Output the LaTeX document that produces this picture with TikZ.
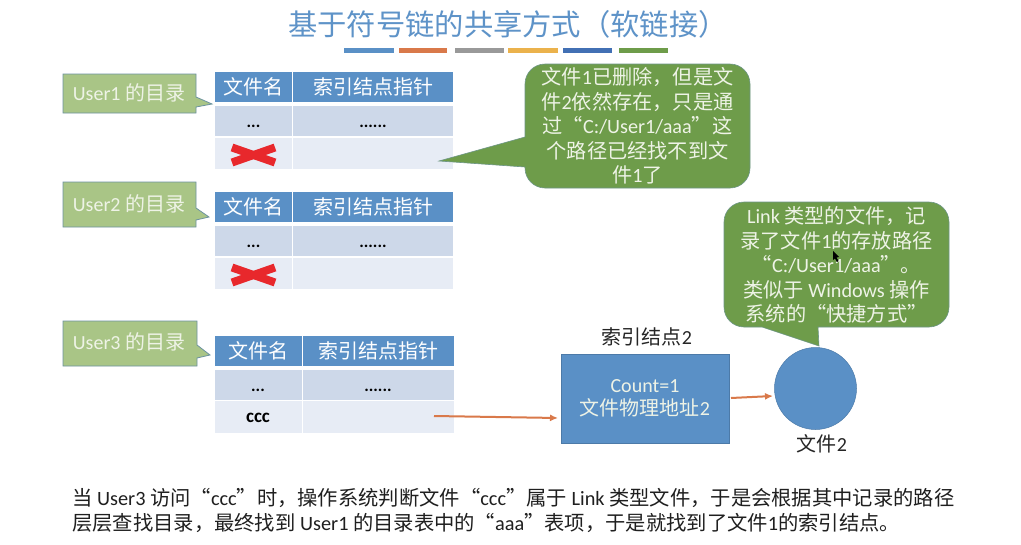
\documentclass[tikz,border=0pt]{standalone}
\usepackage{fontspec}
\setmainfont{Carlito}
\newfontfamily\cjk{Noto Sans CJK SC}
\newcommand\zh[1]{{\cjk #1}}
\newcommand\lowdots[1]{\smash{\raisebox{-6.5pt}{\textbf{#1}}}}
\definecolor{hdr}{HTML}{5A90C6}
\definecolor{rowa}{HTML}{CDD8E9}
\definecolor{rowb}{HTML}{E7ECF5}
\definecolor{lab}{HTML}{A9C586}
\definecolor{labedge}{HTML}{6C93A0}
\definecolor{grn}{HTML}{6E9C4A}
\definecolor{arr}{HTML}{D9794A}
\definecolor{ttl}{HTML}{5E93C8}
\definecolor{lighttext}{HTML}{EEF3E6}
\definecolor{crossred}{HTML}{E8282C}
\definecolor{baryel}{HTML}{EBB24C}
\definecolor{barblu}{HTML}{4270B4}
\usetikzlibrary{arrows.meta}
\tikzset{
  cell/.style={inner sep=0pt,outer sep=0pt,text=black,draw=white,line width=1pt,font=\fontsize{17}{18}\selectfont},
  head/.style={cell,fill=hdr,text=white,font=\fontsize{20}{24}\selectfont,minimum height=31pt},
  rowone/.style={cell,fill=rowa,minimum height=31pt},
  rowtwo/.style={cell,fill=rowb,minimum height=32pt},
  wa/.style={minimum width=78.5pt},
  wb/.style={minimum width=160.5pt},
  wc/.style={minimum width=88pt},
  wd/.style={minimum width=152pt},
  labelbox/.style={fill=lab,draw=labedge,line width=0.8pt},
  labeltext/.style={inner sep=0pt,text=lighttext,font=\fontsize{20}{23}\selectfont},
  bubble/.style={fill=grn,draw=labedge!70!grn,line width=0.6pt},
  bubbletext/.style={inner sep=0pt,align=center,text=lighttext,font=\fontsize{20.2}{24.5}\selectfont},
  conn/.style={draw=arr,line width=2pt,-{Latex[length=8pt,width=7pt]}},
  cross/.style={draw=crossred,line width=8pt},
  bar/.style={minimum height=5pt,inner sep=0pt,outer sep=0pt},
  plain/.style={inner sep=0pt,text=black!85,font=\fontsize{20}{24}\selectfont},
  body/.style={inner sep=0pt,anchor=west,text=black!88,font=\fontsize{20.3}{23}\selectfont}
}
\begin{document}
\begin{tikzpicture}[x=1pt,y=-1pt]
\useasboundingbox (0,0) rectangle (1021,544);
\fill[white] (0,0) rectangle (1021,544);
% title
\node[inner sep=0pt,text=ttl,font=\fontsize{29.3}{34}\selectfont] (title) at (508,24) {\zh{基于符号链的共享方式（软链接）}};
\node[bar,fill=hdr,minimum width=50pt] (b1) at (369,50.5) {};
\node[bar,fill=arr,minimum width=48pt] (b2) at (423,50.5) {};
\node[bar,fill=black!40,minimum width=49pt] (b3) at (479.5,50.5) {};
\node[bar,fill=baryel,minimum width=50pt] (b4) at (533,50.5) {};
\node[bar,fill=barblu,minimum width=49pt] (b5) at (587.5,50.5) {};
\node[bar,fill=grn,minimum width=49pt] (b6) at (643.5,50.5) {};
% label callouts
\path[labelbox] (63,74) -- (196,74) -- (196,97) -- (212,104) -- (196,107) -- (196,113) -- (63,113) -- cycle;
\node[labeltext] (u1) at (129,93) {User1 \zh{的目录}};
\path[labelbox] (63,182) -- (196,182) -- (196,208) -- (209,217) -- (196,220) -- (196,227) -- (63,227) -- cycle;
\node[labeltext] (u2) at (129,204) {User2 \zh{的目录}};
\path[labelbox] (63,321) -- (197,321) -- (197,345) -- (210,355) -- (197,358) -- (197,366) -- (63,366) -- cycle;
\node[labeltext] (u3) at (129,342) {User3 \zh{的目录}};
% table 1
\node[head,wa] (a1) at (253.5,87) {\zh{文件名}};
\node[head,wb] (a2) at (373,87) {\zh{索引结点指针}};
\node[rowone,wa] (a3) at (253.5,121) {\lowdots{...}};
\node[rowone,wb] (a4) at (373,121) {\lowdots{......}};
\node[rowtwo,wa] (a5) at (253.5,153.5) {};
\node[rowtwo,wb] (a6) at (373,153.5) {};
% table 2
\node[head,wa] (c1) at (253.5,207) {\zh{文件名}};
\node[head,wb] (c2) at (373,207) {\zh{索引结点指针}};
\node[rowone,wa] (c3) at (253.5,241) {\lowdots{...}};
\node[rowone,wb] (c4) at (373,241) {\lowdots{......}};
\node[rowtwo,wa] (c5) at (253.5,273.5) {};
\node[rowtwo,wb] (c6) at (373,273.5) {};
% table 3
\node[head,wc] (d1) at (258,351) {\zh{文件名}};
\node[head,wd] (d2) at (378,351) {\zh{索引结点指针}};
\node[rowone,wc] (d3) at (258,385) {\lowdots{...}};
\node[rowone,wd] (d4) at (378,385) {\lowdots{......}};
\node[rowtwo,wc,minimum height=33pt,font=\bfseries\fontsize{19}{20}\selectfont] (d5) at (258,417) {\smash{\raisebox{-5pt}{ccc}}};
\node[rowtwo,wd,minimum height=33pt] (d6) at (378,417) {};
% crosses
\draw[cross] (232,147.5) -- (275,162.5);
\draw[cross] (275,147.5) -- (232,162.5);
\draw[cross] (232,267.5) -- (275,282.5);
\draw[cross] (275,267.5) -- (232,282.5);
% green bubbles
\path[bubble] (545,64) -- (730,64) arc[start angle=-90,end angle=0,radius=20] -- (750,168) arc[start angle=0,end angle=90,radius=20] -- (545,188) arc[start angle=90,end angle=180,radius=20] -- (525,167) -- (439,161) -- (525,137) -- (525,84) arc[start angle=180,end angle=270,radius=20] -- cycle;
\node[bubbletext] (n1) at (637.5,126) {\zh{文件}1\zh{已删除，但是文}\\\zh{件}2\zh{依然存在，只是通}\\\zh{过“}C:/User1/aaa\zh{”这}\\\zh{个路径已经找不到文}\\\zh{件}1\zh{了}};
\path[bubble] (744,202) -- (929,202) arc[start angle=-90,end angle=0,radius=20] -- (949,307) arc[start angle=0,end angle=90,radius=20] -- (818,327) -- (819,346) -- (762,327) -- (744,327) arc[start angle=90,end angle=180,radius=20] -- (724,222) arc[start angle=180,end angle=270,radius=20] -- cycle;
\node[bubbletext] (n2) at (836.5,265) {Link \zh{类型的文件，记}\\\zh{录了文件}1\zh{的存放路径}\\\zh{“}C:/User1/aaa\zh{”。}\\\zh{类似于} Windows \zh{操作}\\\zh{系统的“快捷方式”}};
% cursor
\path[fill=black] (833,251) -- (833,260) -- (835,258.5) -- (837,262) -- (838.5,261) -- (836.5,257.5) -- (839,257) -- cycle;
% index node and file
\node[plain] (idxlabel) at (647,337) {\zh{索引结点}2};
\node[fill=hdr,draw=hdr!85!black,line width=0.5pt,minimum width=168pt,minimum height=89pt,inner sep=0pt,align=center,text=lighttext,font=\fontsize{20}{23}\selectfont] (idx) at (645,398.5) {Count=1\\\zh{文件物理地址}2};
\node[circle,fill=hdr,draw=hdr!85!black,line width=0.5pt,minimum size=82pt,inner sep=0pt] (file) at (815.5,388.5) {};
\node[plain] (filelabel) at (822,444) {\zh{文件}2};
% connectors
\coordinate (s1) at (434,416);
\coordinate (e1) at (558,418);
\coordinate (s2) at (731,398);
\coordinate (e2) at (773,396);
\draw[conn] (s1) -- (e1);
\draw[conn] (s2) -- (e2);
% bottom text
\node[body] (t1) at (72,498) {\zh{当} User3 \zh{访问“}ccc\zh{”时，操作系统判断文件“}ccc\zh{”属于} Link \zh{类型文件，于是会根据其中记录的路径}};
\node[body] (t2) at (72,523) {\zh{层层查找目录，最终找到} User1 \zh{的目录表中的“}aaa\zh{”表项，于是就找到了文件}1\zh{的索引结点。}};
\end{tikzpicture}
\end{document}
